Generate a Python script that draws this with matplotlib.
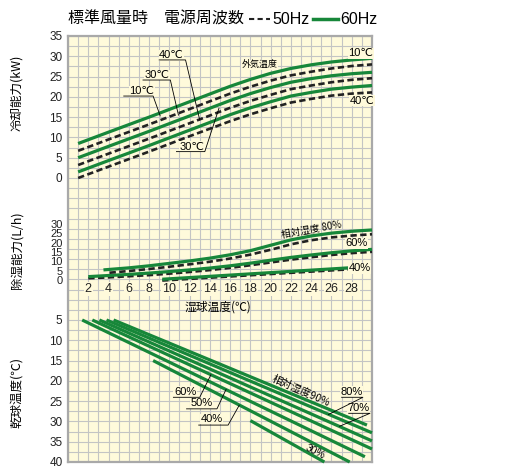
import matplotlib
matplotlib.use('Agg')
import matplotlib.pyplot as plt

W, H, DPI = 522, 472, 100

# ---------------- data ----------------
# Cooling capacity (kW) vs wet-bulb temperature, outdoor temp 10/30/40 C
wb_cool = [1, 4, 8, 12, 16, 18, 20, 22, 24, 26, 28, 30]
cool_10_60 = [8.5, 11.3, 15.0, 18.8, 22.6, 24.3, 25.8, 27.0, 27.9, 28.6, 29.1, 29.5]
cool_10_50 = [6.7, 9.5, 13.2, 17.0, 20.8, 22.5, 24.0, 25.3, 26.2, 27.0, 27.6, 28.0]
cool_30_60 = [5.0, 7.8, 11.5, 15.3, 19.1, 20.8, 22.3, 23.6, 24.5, 25.2, 25.7, 26.05]
cool_30_50 = [3.2, 6.0, 9.7, 13.5, 17.3, 19.0, 20.5, 21.9, 22.8, 23.6, 24.2, 24.6]
cool_40_60 = [1.5, 4.3, 8.0, 11.8, 15.6, 17.3, 18.8, 20.2, 21.1, 21.9, 22.4, 22.8]
cool_40_50 = [0.0, 2.8, 6.5, 10.3, 14.0, 15.7, 17.2, 18.6, 19.5, 20.3, 20.8, 21.1]

# Dehumidifying capacity (L/h) vs wet-bulb temperature, RH 80/60/40 %
wb_dh80_60 = [3.5, 6, 8, 10, 12, 14, 16, 18, 20, 22, 24, 26, 28, 30]
dh80_60 = [5.4, 6.5, 7.6, 8.9, 10.2, 11.7, 13.5, 15.7, 18.6, 21.5, 23.6, 25.1, 26.1, 26.8]
wb_dh80_50 = [4.1, 6, 8, 10, 12, 14, 16, 18, 20, 22, 24, 26, 28, 30]
dh80_50 = [3.9, 4.8, 5.9, 7.1, 8.4, 9.8, 11.5, 13.6, 16.2, 19.1, 21.3, 22.8, 23.8, 24.5]
wb_dh60 = [2, 4, 6, 8, 10, 12, 14, 16, 18, 20, 22, 24, 26, 28, 30]
dh60_60 = [1.8, 2.4, 3.0, 3.7, 4.5, 5.4, 6.4, 7.6, 9.0, 10.6, 12.1, 13.4, 14.6, 15.6, 16.4]
dh60_50 = [0.9, 1.4, 2.0, 2.6, 3.4, 4.3, 5.3, 6.5, 7.9, 9.4, 10.9, 12.2, 13.4, 14.4, 15.1]
wb_dh40 = [9.3, 28]
dh40_60 = [0.4, 6.6]
dh40_50 = [-0.3, 5.8]

# Dry-bulb temperature vs wet-bulb temperature for RH lines
wb_rh90, db_rh90 = [4.5, 29.5], [5, 30.9]
wb_rh80, db_rh80 = [3.8, 30.0], [5, 32.8]
wb_rh70, db_rh70 = [3.1, 30.0], [5, 34.8]
wb_rh60, db_rh60 = [2.4, 30.0], [5, 36.8]
wb_rh50, db_rh50 = [1.4, 29.3], [5, 38.7]
wb_rh40, db_rh40 = [8.4, 27.8], [15, 40.0]
wb_rh30, db_rh30 = [18.0, 25.3], [29.8, 40.0]

cool_ticks = [0, 5, 10, 15, 20, 25, 30, 35]
dh_ticks = [0, 5, 10, 15, 20, 25, 30]
db_ticks = [5, 10, 15, 20, 25, 30, 35, 40]
wb_ticks = [2, 4, 6, 8, 10, 12, 14, 16, 18, 20, 22, 24, 26, 28]

# ---------------- style ----------------
CREAM = '#fffadb'
GRIDC = '#c4c4c4'
FRAME = '#a9a9a9'
GREEN = '#17873a'
DASHC = '#222222'
JP = ['Noto Sans CJK JP', 'DejaVu Sans']
NUM = ['Liberation Sans', 'DejaVu Sans']

fig = plt.figure(figsize=(W / DPI, H / DPI), dpi=DPI)
fig.patch.set_facecolor('white')

L, R, T, B = 68, 372, 36, 462
rect = [L / W, 1 - B / H, (R - L) / W, (B - T) / H]

def fpx(x, y):
    return (x / W, 1 - y / H)

# background grid axes (30 columns x 42 rows)
bg = fig.add_axes(rect)
bg.set_facecolor(CREAM)
bg.set_xlim(0, 30)
bg.set_ylim(42, 0)
bg.set_xticks(range(31))
bg.set_yticks(range(43))
bg.tick_params(length=0, labelbottom=False, labelleft=False)
bg.grid(True, color=GRIDC, lw=0.8)
bg.set_axisbelow(True)
for s in bg.spines.values():
    s.set_color(FRAME)
    s.set_linewidth(1.6)

def overlay(ylim, fs=8.5):
    ax = fig.add_axes(rect, facecolor='none')
    ax.set_xlim(0, 30)
    ax.set_ylim(*ylim)
    for s in ax.spines.values():
        s.set_visible(False)
    ax.set_xticks([])
    ax.tick_params(axis='y', length=0, pad=4, labelsize=fs)
    return ax

ax1 = overlay((-70, 35))
ax2 = overlay((-97.5, 130.7), fs=8)
ax3 = overlay((40, -65))

ax1.set_yticks(cool_ticks)
ax2.set_yticks(dh_ticks)
ax3.set_yticks(db_ticks)
for ax in (ax1, ax2, ax3):
    for lab in ax.get_yticklabels():
        lab.set_family(NUM)
        lab.set_color('#222222')

gkw = dict(color=GREEN, lw=2.3, solid_capstyle='butt', clip_on=False)
dkw = dict(color=DASHC, lw=1.9, dashes=(2.4, 1.3), clip_on=False)

# cooling
ax1.plot(wb_cool, cool_10_60, **gkw)
ax1.plot(wb_cool, cool_10_50, **dkw)
ax1.plot(wb_cool, cool_30_60, **gkw)
ax1.plot(wb_cool, cool_30_50, **dkw)
ax1.plot(wb_cool, cool_40_60, **gkw)
ax1.plot(wb_cool, cool_40_50, **dkw)

# dehumidifying
ax2.plot(wb_dh40, dh40_50, **dkw)
ax2.plot(wb_dh40, dh40_60, **gkw)
ax2.plot(wb_dh60, dh60_50, **dkw)
ax2.plot(wb_dh60, dh60_60, **gkw)
ax2.plot(wb_dh80_50, dh80_50, **dkw)
ax2.plot(wb_dh80_60, dh80_60, **gkw)

# dry bulb
for wbs, dbs in [(wb_rh90, db_rh90), (wb_rh80, db_rh80), (wb_rh70, db_rh70),
                 (wb_rh60, db_rh60), (wb_rh50, db_rh50), (wb_rh40, db_rh40),
                 (wb_rh30, db_rh30)]:
    ax3.plot(wbs, dbs, **gkw)

# ---------------- labels ----------------
lbox = dict(facecolor=CREAM, edgecolor='none', pad=0.3)
lkw = dict(color='black', lw=0.6, clip_on=False)

def leader(ax, text, tx, ty, ux0, ux1, uy, px, py, fs=8):
    ax.text(tx, ty, text, ha='center', va='center', fontsize=fs,
            family=NUM, bbox=lbox, zorder=5)
    ax.plot([ux0, ux1, px], [uy, uy, py], **lkw, zorder=6)

# cooling labels
leader(ax1, '40℃', 10.2, 30.3, 9.0, 11.6, 29.1, 13.0, 14.3)
leader(ax1, '30℃', 8.75, 25.4, 7.4, 10.1, 24.15, 10.9, 15.5)
leader(ax1, '10℃', 7.3, 21.4, 5.5, 8.4, 20.2, 9.1, 15.3)
leader(ax1, '30℃', 12.2, 7.7, 10.7, 13.5, 6.5, 14.9, 17.2)
ax1.text(18.9, 27.9, '外気温度', ha='center', va='center', fontsize=6.5,
         family=JP, bbox=lbox, zorder=5)
ax1.text(28.9, 30.7, '10℃', ha='center', va='center', fontsize=8,
         family=NUM, bbox=lbox, zorder=5)
ax1.text(29.0, 19.0, '40℃', ha='center', va='center', fontsize=8,
         family=NUM, bbox=lbox, zorder=5)

# dehumid labels
ax2.text(24.0, 26.8, '相対湿度 80%', ha='center', va='center', fontsize=7,
         family=JP, rotation=10, zorder=5)
ax2.text(28.5, 19.6, '60%', ha='center', va='center', fontsize=8,
         family=NUM, bbox=lbox, zorder=5)
ax2.text(28.8, 6.3, '40%', ha='center', va='center', fontsize=8,
         family=NUM, bbox=lbox, zorder=5)
for x in wb_ticks:
    ax2.text(x, -4.8, str(x), ha='center', va='center', fontsize=9,
             family=NUM, color='#222222',
             bbox=dict(facecolor=CREAM, edgecolor='none', pad=0.6), zorder=5)

# dry-bulb labels
leader(ax3, '60%', 11.55, 22.7, 10.4, 13.0, 24.05, 14.1, 18.5)
leader(ax3, '50%', 13.2, 25.5, 11.7, 14.7, 26.9, 15.6, 22.1)
leader(ax3, '40%', 14.2, 29.4, 12.9, 15.8, 30.9, 16.9, 26.0)
leader(ax3, '80%', 28.0, 22.7, 27.0, 29.1, 24.05, 25.7, 28.3)
leader(ax3, '70%', 28.7, 26.6, 27.7, 29.8, 28.0, 26.8, 31.2)
ax3.text(23.0, 22.6, '相対湿度90%', ha='center', va='center', fontsize=7.5,
         family=JP, rotation=-24, zorder=5)
ax3.text(24.4, 37.6, '30%', ha='center', va='center', fontsize=7.5,
         family=NUM, rotation=-26, zorder=5)

# axis titles
fig.text(*fpx(218, 307), '湿球温度(℃)', ha='center', va='center', fontsize=8.5, family=JP)
fig.text(*fpx(17, 93), '冷却能力(kW)', ha='center', va='center', fontsize=9, family=JP, rotation=90)
fig.text(*fpx(17, 250), '除湿能力(L/h)', ha='center', va='center', fontsize=9, family=JP, rotation=90)
fig.text(*fpx(17, 392), '乾球温度(℃)', ha='center', va='center', fontsize=9, family=JP, rotation=90)

# header / legend
fig.text(*fpx(68, 19), '標準風量時　電源周波数', ha='left', va='center', fontsize=11.5, family=JP)
fig.lines.append(plt.Line2D([249 / W, 270 / W], [1 - 19 / H] * 2, transform=fig.transFigure,
                            color=DASHC, lw=1.5, dashes=(2.5, 1.6)))
fig.text(*fpx(272, 19), '50Hz', ha='left', va='center', fontsize=11.5, family=NUM)
fig.lines.append(plt.Line2D([313 / W, 338 / W], [1 - 19 / H] * 2, transform=fig.transFigure,
                            color=GREEN, lw=2.5))
fig.text(*fpx(340, 19), '60Hz', ha='left', va='center', fontsize=11.5, family=NUM)

fig.savefig('out.png', dpi=DPI, facecolor='white')
